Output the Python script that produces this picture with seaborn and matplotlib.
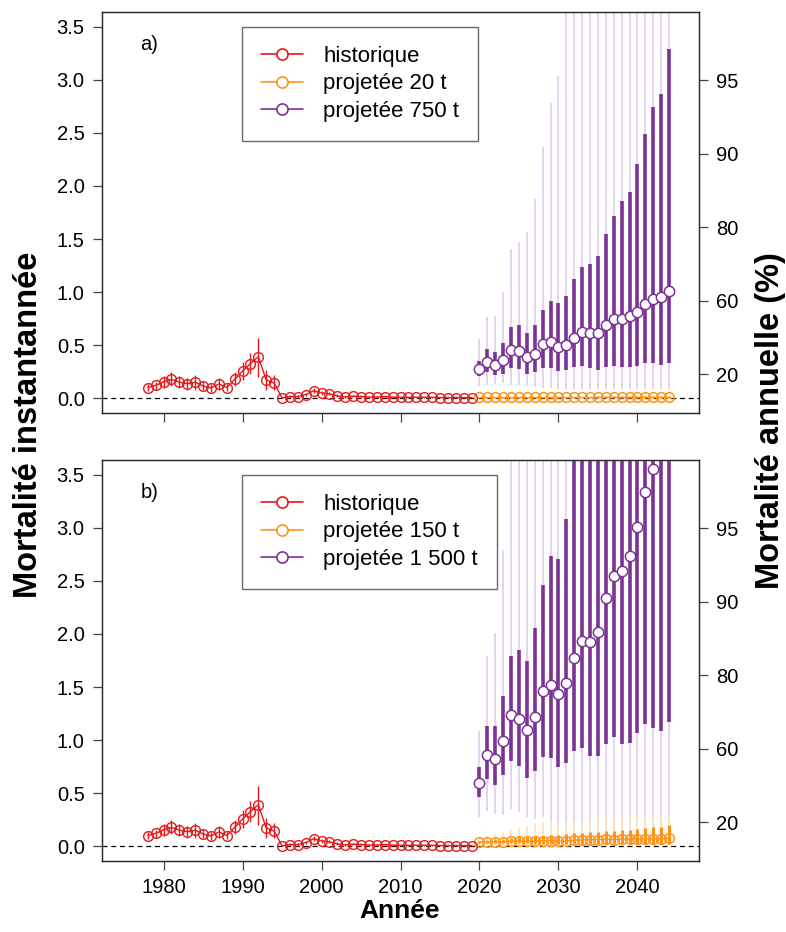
import numpy as np
import matplotlib
matplotlib.use("Agg")
import matplotlib.pyplot as plt
from matplotlib import font_manager
from matplotlib.lines import Line2D
import seaborn as sns

sns.set_style("ticks")
plt.rcParams['font.family'] = ['Liberation Sans', 'DejaVu Sans']
plt.rcParams['text.color'] = 'black'
plt.rcParams['xtick.color'] = 'black'
plt.rcParams['ytick.color'] = 'black'

# historique 1978-2019
hist_years = np.arange(1978, 2020)
hist = [0.10, 0.12, 0.155, 0.177, 0.15, 0.137, 0.15, 0.115, 0.096, 0.134,
        0.10, 0.177, 0.255, 0.326, 0.39, 0.17, 0.143, 0.002, 0.015, 0.015,
        0.034, 0.07, 0.05, 0.04, 0.02, 0.012, 0.018, 0.015, 0.01, 0.01,
        0.015, 0.01, 0.008, 0.008, 0.008, 0.008, 0.008, 0.006, 0.006, 0.006,
        0.005, 0.005]
hist_lo = [0.068, 0.08, 0.10, 0.11, 0.093, 0.08, 0.08, 0.075, 0.06, 0.08,
           0.068, 0.11, 0.17, 0.224, 0.20, 0.08, 0.075, 0.0, 0.005, 0.005,
           0.018, 0.045, 0.03, 0.025, 0.01, 0.005, 0.008, 0.006, 0.004, 0.004,
           0.006, 0.004, 0.003, 0.003, 0.003, 0.003, 0.003, 0.002, 0.002, 0.002,
           0.002, 0.002]
hist_hi = [0.137, 0.152, 0.205, 0.245, 0.205, 0.19, 0.22, 0.16, 0.137, 0.19,
           0.137, 0.245, 0.345, 0.43, 0.57, 0.27, 0.22, 0.008, 0.03, 0.03,
           0.05, 0.10, 0.07, 0.06, 0.035, 0.022, 0.03, 0.025, 0.018, 0.018,
           0.025, 0.018, 0.014, 0.014, 0.014, 0.014, 0.014, 0.011, 0.011, 0.011,
           0.01, 0.01]

proj_years = np.arange(2020, 2045)

# a) projetée 750 t
p750 = [0.276, 0.345, 0.31, 0.357, 0.453, 0.444, 0.388, 0.419, 0.506, 0.528,
        0.478, 0.503, 0.571, 0.627, 0.612, 0.618, 0.689, 0.748, 0.748, 0.770,
        0.814, 0.885, 0.935, 0.950, 1.006]
p750_q1 = [0.205, 0.245, 0.214, 0.23, 0.286, 0.273, 0.23, 0.245, 0.286, 0.286,
           0.255, 0.267, 0.292, 0.30, 0.286, 0.27, 0.292, 0.30, 0.298, 0.292,
           0.307, 0.329, 0.329, 0.314, 0.329]
p750_q3 = [0.354, 0.463, 0.432, 0.516, 0.671, 0.686, 0.618, 0.689, 0.835, 0.919,
           0.894, 0.96, 1.124, 1.239, 1.261, 1.342, 1.543, 1.72, 1.86, 1.947,
           2.21, 2.49, 2.745, 2.87, 3.29]
p750_lo = [0.115, 0.127, 0.137, 0.143, 0.127, 0.121, 0.112, 0.106, 0.10, 0.10,
           0.09, 0.09, 0.09, 0.088, 0.09, 0.085, 0.09, 0.088, 0.085, 0.09,
           0.088, 0.09, 0.09, 0.088, 0.09]
p750_hi = [0.556, 0.764, 0.773, 0.997, 1.404, 1.472, 1.565, 1.876, 2.37, 2.786,
           3.04, 3.8, 3.9, 4.1, 4.2, 4.4, 4.6, 4.8, 5.0, 5.2,
           5.5, 5.8, 6.1, 6.4, 6.8]

# a) projetée 20 t
p20 = [0.007, 0.007, 0.007, 0.007, 0.007, 0.007, 0.007, 0.007, 0.007, 0.007,
       0.007, 0.007, 0.007, 0.007, 0.007, 0.007, 0.007, 0.007, 0.007, 0.007,
       0.007, 0.007, 0.007, 0.007, 0.007]
p20_lo = [0.004, 0.004, 0.004, 0.004, 0.004, 0.004, 0.004, 0.004, 0.004, 0.004,
          0.004, 0.004, 0.004, 0.004, 0.004, 0.004, 0.004, 0.004, 0.004, 0.004,
          0.004, 0.004, 0.004, 0.004, 0.004]
p20_hi = [0.011, 0.011, 0.011, 0.012, 0.012, 0.012, 0.013, 0.013, 0.013, 0.014,
          0.014, 0.014, 0.015, 0.015, 0.015, 0.016, 0.016, 0.016, 0.017, 0.017,
          0.017, 0.018, 0.018, 0.018, 0.019]

# b) projetée 1 500 t
p1500 = [0.593, 0.863, 0.826, 0.994, 1.233, 1.202, 1.093, 1.217, 1.463, 1.516,
         1.432, 1.534, 1.776, 1.938, 1.929, 2.019, 2.335, 2.543, 2.593, 2.739,
         3.009, 3.342, 3.559, 3.85, 4.1]
p1500_q1 = [0.46, 0.63, 0.575, 0.668, 0.801, 0.755, 0.646, 0.708, 0.839, 0.832,
            0.745, 0.78, 0.894, 0.925, 0.848, 0.854, 0.963, 1.028, 0.966, 0.972,
            1.065, 1.149, 1.112, 1.087, 1.174]
p1500_q3 = [0.745, 1.133, 1.133, 1.416, 1.789, 1.848, 1.748, 2.056, 2.457, 2.736,
            2.711, 3.084, 3.7, 3.9, 4.0, 4.2, 4.6, 4.9, 5.1, 5.4,
            5.8, 6.2, 6.6, 7.0, 7.5]
p1500_lo = [0.273, 0.335, 0.304, 0.289, 0.351, 0.32, 0.273, 0.258, 0.273, 0.211,
            0.2, 0.2, 0.19, 0.2, 0.19, 0.2, 0.2, 0.19, 0.2, 0.2,
            0.19, 0.2, 0.19, 0.19, 0.2]
p1500_hi = [1.087, 1.792, 2.012, 2.789, 4.0, 4.3, 4.6, 4.9, 5.2, 5.5,
            5.8, 6.1, 6.4, 6.7, 7.0, 7.3, 7.6, 7.9, 8.2, 8.5,
            8.8, 9.1, 9.4, 9.7, 10.0]

# b) projetée 150 t
p150 = [0.04, 0.04, 0.04, 0.04, 0.047, 0.047, 0.047, 0.047, 0.053, 0.053,
        0.047, 0.047, 0.056, 0.059, 0.062, 0.062, 0.065, 0.062, 0.065, 0.068,
        0.068, 0.071, 0.071, 0.071, 0.078]
p150_q1 = [0.03, 0.03, 0.028, 0.027, 0.026, 0.025, 0.025, 0.024, 0.024, 0.023,
           0.022, 0.022, 0.022, 0.021, 0.021, 0.021, 0.02, 0.02, 0.02, 0.02,
           0.02, 0.02, 0.019, 0.019, 0.019]
p150_q3 = [0.05, 0.06, 0.065, 0.07, 0.08, 0.085, 0.09, 0.095, 0.10, 0.105,
           0.105, 0.11, 0.12, 0.125, 0.13, 0.135, 0.14, 0.145, 0.15, 0.155,
           0.165, 0.17, 0.18, 0.185, 0.196]
p150_lo = [0.015, 0.014, 0.013, 0.012, 0.012, 0.011, 0.011, 0.01, 0.01, 0.01,
           0.01, 0.009, 0.009, 0.009, 0.009, 0.009, 0.008, 0.008, 0.008, 0.008,
           0.008, 0.008, 0.008, 0.008, 0.008]
p150_hi = [0.08, 0.10, 0.11, 0.13, 0.15, 0.17, 0.19, 0.22, 0.23, 0.24,
           0.24, 0.25, 0.25, 0.26, 0.26, 0.27, 0.27, 0.27, 0.28, 0.28,
           0.28, 0.29, 0.29, 0.29, 0.30]

annual_pct = [20, 60, 80, 90, 95]
year_ticks = [1980, 1990, 2000, 2010, 2020, 2030, 2040]

RED = '#E41A1C'
ORANGE = '#FF9419'
PURPLE = '#7B3294'
LPURPLE = '#E2D0EA'
LORANGE = '#FFE2BF'

# narrow bold font for the vertical titles, if installed
try:
    font_manager.findfont(font_manager.FontProperties(family='Liberation Sans Narrow'),
                          fallback_to_default=False)
    narrow = ['Liberation Sans Narrow', 'DejaVu Sans']
    vsize = 27
except Exception:
    narrow = ['Liberation Sans', 'DejaVu Sans']
    vsize = 23.5

fig = plt.figure(figsize=(7.86, 9.32), dpi=100)
W, H = 786, 932
left, right = 102 / W, 699 / W


def draw_panel(ax, letter, low, low_q1, low_q3, low_lo, low_hi,
               high, high_q1, high_q3, high_lo, high_hi, low_lab, high_lab, show_x):
    ax.axhline(0, color='black', lw=0.9, ls=(0, (4, 3)), zorder=1)
    # forte capture (violet): 95 % fin, 50 % épais
    ax.vlines(proj_years, high_lo, high_hi, color=LPURPLE, lw=1.3, zorder=2)
    ax.vlines(proj_years, high_q1, high_q3, color=PURPLE, lw=2.6, zorder=3)
    sns.scatterplot(x=proj_years, y=high, ax=ax, marker='o', s=55,
                    facecolor='white', edgecolor=PURPLE, linewidth=1.1, zorder=6)
    # faible capture (orange)
    ax.vlines(proj_years, low_lo, low_hi, color=LORANGE, lw=1.3, zorder=4)
    ax.vlines(proj_years, low_q1, low_q3, color=ORANGE, lw=2.2, zorder=4)
    sns.lineplot(x=proj_years, y=low, ax=ax, color=ORANGE, lw=1.0,
                 marker='o', markersize=7, markerfacecolor='none',
                 markeredgecolor=ORANGE, markeredgewidth=1.1, zorder=5)
    # historique
    ax.vlines(hist_years, hist_lo, hist_hi, color=RED, lw=1.0, zorder=4)
    sns.lineplot(x=hist_years, y=hist, ax=ax, color=RED, lw=1.0,
                 marker='o', markersize=7, markerfacecolor='none',
                 markeredgecolor=RED, markeredgewidth=1.0, zorder=5)

    ax.set_xlim(1972.2, 2047.8)
    ax.set_ylim(-0.14, 3.64)
    ax.set_yticks(np.arange(0, 3.6, 0.5))
    ax.set_yticklabels([f"{v:.1f}" for v in np.arange(0, 3.6, 0.5)])
    ax.set_xticks(year_ticks)
    if show_x:
        ax.set_xticklabels([str(y) for y in year_ticks])
    else:
        ax.set_xticklabels([])
    ax.set_xlabel('')
    ax.set_ylabel('')
    ax.tick_params(axis='both', direction='out', length=6.5, width=0.9,
                   labelsize=14.5, color='#444444', labelcolor='black', pad=6)
    for s in ax.spines.values():
        s.set_linewidth(1.0)
        s.set_color('#444444')
        s.set_visible(True)

    ax2 = ax.twinx()
    ax2.set_ylim(ax.get_ylim())
    ax2.set_yticks([-np.log(1 - p / 100) for p in annual_pct])
    ax2.set_yticklabels([str(p) for p in annual_pct])
    ax2.tick_params(axis='y', direction='out', length=6.5, width=0.9,
                    labelsize=14.5, color='#444444', labelcolor='black', pad=6)
    ax2.grid(False)

    ax.text(0.064, 0.918, letter, transform=ax.transAxes, fontsize=14.5,
            ha='left', va='center')

    handles = [
        Line2D([], [], color=c, lw=1.2, marker='o', markersize=8,
               markerfacecolor='white', markeredgewidth=1.2)
        for c in (RED, ORANGE, PURPLE)
    ]
    leg = ax.legend(handles, ['historique', low_lab, high_lab],
                    loc='upper left', bbox_to_anchor=(0.2345, 0.963),
                    borderaxespad=0, fontsize=16, frameon=True, fancybox=False,
                    handlelength=1.9, handletextpad=0.9, labelspacing=0.3,
                    borderpad=0.85)
    leg.get_frame().set_edgecolor('#444444')
    leg.get_frame().set_linewidth(1.0)
    leg.set_zorder(10)


ax_a = fig.add_axes([left, 1 - 413 / H, right - left, 401 / H])
draw_panel(ax_a, 'a)', p20, p20_lo, p20_hi, p20_lo, p20_hi,
           p750, p750_q1, p750_q3, p750_lo, p750_hi,
           'projetée 20 t', 'projetée 750 t', False)

ax_b = fig.add_axes([left, 1 - 861 / H, right - left, 401 / H])
draw_panel(ax_b, 'b)', p150, p150_q1, p150_q3, p150_lo, p150_hi,
           p1500, p1500_q1, p1500_q3, p1500_lo, p1500_hi,
           'projetée 150 t', 'projetée 1 500 t', True)

fig.text(29 / W, 1 - 425 / H, 'Mortalité instantannée', rotation=90,
         ha='center', va='center', fontsize=vsize, fontweight='bold', family=narrow)
fig.text(771 / W, 1 - 421 / H, 'Mortalité annuelle (%)', rotation=90,
         ha='center', va='center', fontsize=vsize, fontweight='bold', family=narrow)
fig.text(400 / W, 1 - 911 / H, 'Année', ha='center', va='center',
         fontsize=19, fontweight='bold')

fig.savefig('out.png', dpi=100)
